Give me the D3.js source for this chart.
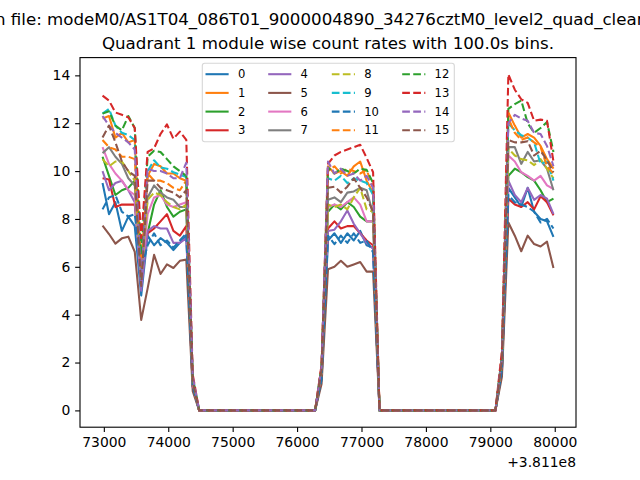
<!DOCTYPE html>
<html><head><meta charset="utf-8">
<script src="https://cdn.jsdelivr.net/npm/d3@7"></script>
<style>body{margin:0;background:#fff} text{font-family:"DejaVu Sans",sans-serif;fill:#000}</style>
</head><body><svg id="c" width="640" height="480" xmlns="http://www.w3.org/2000/svg"></svg>
<script>
// ---------------- data ----------------
const timeOffset = 381100000;
const binTimes = [72980,73080,73180,73280,73380,73480,73580,73680,73780,73880,73980,74080,74180,74280,74380,
74480,74580,74680,74780,74880,74980,75080,75180,75280,75380,75480,75580,75680,75780,75880,75980,76080,76180,76280,
76380,76480,76580,76680,76780,76880,76980,77080,77180,
77280,77380,77480,77580,77680,77780,77880,77980,78080,78180,78280,78380,78480,78580,78680,78780,78880,78980,79080,
79180,79280,79380,79480,79580,79680,79780,79880,79980];
const xTickLabels = ["73000","74000","75000","76000","77000","78000","79000","80000"];
const yTickLabels = ["0","2","4","6","8","10","12","14"];
const channelNames = ["0","1","2","3","4","5","6","7","8","9","10","11","12","13","14","15"];

const ch0 = [9.5,8.2,8.7,7.5,8.1,7.7,4.8,7.3,6.9,7.2,7.0,6.7,7.0,7.3, 1.0,
0,0,0,0,0,0,0,0,0,0,0,0,0,0,0,0,0,0,0, 1.3, 7.1,7.4,7.0,7.4,7.1,7.5,6.9,6.8,
0,0,0,0,0,0,0,0,0,0,0,0,0,0,0,0,0,0,0, 1.6, 9.3,8.9,8.5,9.3,8.3,8.0,7.9,7.25];
const ch1 = [12.2,12.3,11.4,11.6,11.2,11.3,5.7,9.8,10.3,10.2,9.9,9.9,9.7,9.6, 1.3,
0,0,0,0,0,0,0,0,0,0,0,0,0,0,0,0,0,0,0, 1.8, 10.2,9.9,10.0,9.8,10.2,10.4,9.6,9.1,
0,0,0,0,0,0,0,0,0,0,0,0,0,0,0,0,0,0,0, 2.1, 12.45,11.9,11.4,11.55,11.4,11.05,10.5,10.1];
const ch2 = [10.6,9.8,9.0,9.2,9.3,9.6,6.2,7.4,8.6,9.2,8.5,8.1,8.3,8.4, 1.1,
0,0,0,0,0,0,0,0,0,0,0,0,0,0,0,0,0,0,0, 1.5, 8.3,8.6,8.4,8.7,8.5,8.1,7.9,7.9,
0,0,0,0,0,0,0,0,0,0,0,0,0,0,0,0,0,0,0, 1.9, 9.8,10.1,9.95,9.75,9.6,9.2,8.7,8.85];
const ch3 = [9.7,9.65,8.5,8.6,8.6,8.6,6.0,7.4,7.6,7.9,8.2,7.5,7.3,7.7, 1.0,
0,0,0,0,0,0,0,0,0,0,0,0,0,0,0,0,0,0,0, 1.4, 7.6,7.9,7.6,7.7,7.7,7.4,7.1,6.9,
0,0,0,0,0,0,0,0,0,0,0,0,0,0,0,0,0,0,0, 1.7, 8.85,8.6,8.5,8.7,8.4,8.95,8.7,8.15];
const ch4 = [10.0,9.2,9.5,9.6,9.2,8.7,5.0,7.5,7.7,7.6,7.6,7.0,7.0,7.2, 1.0,
0,0,0,0,0,0,0,0,0,0,0,0,0,0,0,0,0,0,0, 1.4, 7.5,7.55,7.9,8.35,7.8,7.4,7.0,6.75,
0,0,0,0,0,0,0,0,0,0,0,0,0,0,0,0,0,0,0, 1.8, 9.6,9.0,8.7,9.3,8.8,9.0,8.85,8.2];
const ch5 = [7.72,7.37,6.97,7.19,7.26,6.63,3.78,5.1,6.5,5.7,6.1,5.95,6.25,6.3, 0.8,
0,0,0,0,0,0,0,0,0,0,0,0,0,0,0,0,0,0,0, 1.1, 5.9,6.0,6.25,6.0,6.1,6.2,5.8,5.8,
0,0,0,0,0,0,0,0,0,0,0,0,0,0,0,0,0,0,0, 1.4, 7.85,7.3,6.65,7.3,6.95,6.85,7.05,5.95];
const ch6 = [11.0,10.3,9.9,9.6,9.2,9.0,5.5,8.2,8.9,9.0,8.6,8.5,8.6,8.7, 1.1,
0,0,0,0,0,0,0,0,0,0,0,0,0,0,0,0,0,0,0, 1.6, 8.5,8.6,8.5,8.7,8.9,8.6,7.9,7.9,
0,0,0,0,0,0,0,0,0,0,0,0,0,0,0,0,0,0,0, 2.0, 10.65,10.4,9.95,9.8,9.6,9.8,9.4,9.25];
const ch7 = [10.75,11.0,10.6,10.3,9.7,9.4,5.8,8.9,9.4,9.1,8.9,8.8,8.5,8.5, 1.2,
0,0,0,0,0,0,0,0,0,0,0,0,0,0,0,0,0,0,0, 1.6, 8.8,8.9,8.7,9.1,9.15,9.3,9.2,8.2,
0,0,0,0,0,0,0,0,0,0,0,0,0,0,0,0,0,0,0, 2.0, 11.0,11.0,10.3,10.8,10.4,10.45,10.1,9.2];
const ch8 = [10.5,10.2,10.4,10.4,10.0,9.6,5.6,8.8,9.1,9.0,8.7,8.5,8.4,8.6, 1.2,
0,0,0,0,0,0,0,0,0,0,0,0,0,0,0,0,0,0,0, 1.6, 8.6,8.5,8.6,8.4,8.9,9.3,8.4,8.3,
0,0,0,0,0,0,0,0,0,0,0,0,0,0,0,0,0,0,0, 2.1, 10.95,10.65,10.5,10.45,10.25,10.5,10.1,9.7];
const ch9 = [12.4,12.6,11.9,11.6,11.5,11.3,5.5,10.0,10.45,10.15,10.1,9.95,9.85,9.75, 1.4,
0,0,0,0,0,0,0,0,0,0,0,0,0,0,0,0,0,0,0, 1.8, 9.7,9.6,9.8,9.5,9.7,9.6,9.5,9.0,
0,0,0,0,0,0,0,0,0,0,0,0,0,0,0,0,0,0,0, 2.2, 12.0,11.7,11.5,11.4,11.2,10.3,10.4,9.6];
const ch10 = [8.4,8.9,9.0,8.3,8.1,8.2,5.9,6.9,7.4,6.9,7.1,6.8,7.1,7.4, 1.0,
0,0,0,0,0,0,0,0,0,0,0,0,0,0,0,0,0,0,0, 1.3, 7.3,6.95,7.3,7.0,7.4,7.0,7.1,6.6,
0,0,0,0,0,0,0,0,0,0,0,0,0,0,0,0,0,0,0, 1.7, 9.0,8.7,8.6,8.5,8.3,7.85,8.0,7.6];
const ch11 = [11.3,11.0,10.9,10.6,10.6,10.5,6.0,9.9,9.6,9.6,9.5,9.3,9.2,9.6, 1.3,
0,0,0,0,0,0,0,0,0,0,0,0,0,0,0,0,0,0,0, 1.8, 10.0,10.2,9.9,10.1,10.0,9.9,10.05,9.3,
0,0,0,0,0,0,0,0,0,0,0,0,0,0,0,0,0,0,0, 2.2, 12.2,11.6,11.3,11.4,11.2,11.0,10.2,9.9];
const ch12 = [12.4,12.5,11.9,11.7,12.3,11.8,6.5,10.6,10.85,10.8,10.5,10.2,10.0,9.8, 1.3,
0,0,0,0,0,0,0,0,0,0,0,0,0,0,0,0,0,0,0, 1.8, 10.15,9.9,10.1,10.0,9.9,10.1,10.05,9.5,
0,0,0,0,0,0,0,0,0,0,0,0,0,0,0,0,0,0,0, 2.3, 12.6,12.8,12.95,12.0,11.6,11.8,12.05,10.8];
const ch13 = [13.15,12.95,12.45,12.35,12.25,11.8,7.2,10.8,10.95,11.55,11.95,11.35,11.65,11.3, 1.5,
0,0,0,0,0,0,0,0,0,0,0,0,0,0,0,0,0,0,0, 1.9, 10.3,10.65,10.8,10.9,11.0,11.1,10.55,9.95,
0,0,0,0,0,0,0,0,0,0,0,0,0,0,0,0,0,0,0, 2.5, 14.04,13.4,13.0,12.85,12.1,12.15,12.1,10.4];
const ch14 = [12.3,11.9,11.6,11.4,11.2,10.9,5.3,10.1,10.0,10.0,9.9,9.7,9.7,10.35, 1.4,
0,0,0,0,0,0,0,0,0,0,0,0,0,0,0,0,0,0,0, 1.8, 10.4,9.9,10.1,9.8,9.9,9.6,9.8,9.3,
0,0,0,0,0,0,0,0,0,0,0,0,0,0,0,0,0,0,0, 2.2, 12.0,12.35,12.2,12.1,11.6,11.55,11.05,10.2];
const ch15 = [11.4,11.9,11.2,10.4,10.0,9.8,5.2,9.6,9.6,9.3,9.2,9.1,8.9,9.2, 1.2,
0,0,0,0,0,0,0,0,0,0,0,0,0,0,0,0,0,0,0, 1.7, 9.3,9.35,9.1,9.35,9.7,9.3,8.9,8.3,
0,0,0,0,0,0,0,0,0,0,0,0,0,0,0,0,0,0,0, 2.1, 11.3,11.2,11.2,11.25,10.65,10.85,10.45,9.95];

const series = [ch0,ch1,ch2,ch3,ch4,ch5,ch6,ch7,ch8,ch9,ch10,ch11,ch12,ch13,ch14,ch15];
const tab10 = ["#1f77b4","#ff7f0e","#2ca02c","#d62728","#9467bd","#8c564b","#e377c2","#7f7f7f","#bcbd22","#17becf"];
const isDashed = i => i >= 8;

// ---------------- layout ----------------
const svg = d3.select("#c");
const L = 80, R = 576, T = 57.6, B = 427.2;
const tMin = d3.min(binTimes), tMax = d3.max(binTimes);
const tPad = (tMax - tMin) * 0.05;
const allV = series.flat();
const vMin = d3.min(allV), vMax = d3.max(allV);
const vPad = (vMax - vMin) * 0.05;
const x = d3.scaleLinear().domain([tMin - tPad, tMax + tPad]).range([L, R]);
const y = d3.scaleLinear().domain([vMin - vPad, vMax + vPad]).range([B, T]);

svg.append("rect").attr("width",640).attr("height",480).attr("fill","#fff");
svg.append("defs").append("clipPath").attr("id","clip")
  .append("rect").attr("x",L).attr("y",T).attr("width",R-L).attr("height",B-T);

const line = d3.line().x((d,i)=>x(binTimes[i])).y(d=>y(d));
const gl = svg.append("g").attr("clip-path","url(#clip)");
series.forEach((s,i)=>{
  gl.append("path").attr("d", line(s)).attr("fill","none")
    .attr("stroke", tab10[i%10]).attr("stroke-width",2.08)
    .attr("stroke-linejoin","round")
    .attr("stroke-dasharray", isDashed(i) ? "7.7,3.33" : null);
});

// axes
const tickLen = 4.86;
const xTickVals = xTickLabels.map(Number);
const xa = svg.append("g").attr("transform",`translate(0,${B})`)
  .call(d3.axisBottom(x).tickValues(xTickVals).tickFormat((d,i)=>xTickLabels[i])
        .tickSize(tickLen).tickPadding(5.2).tickSizeOuter(0));
const yTickVals = yTickLabels.map(Number);
const ya = svg.append("g").attr("transform",`translate(${L},0)`)
  .call(d3.axisLeft(y).tickValues(yTickVals).tickFormat((d,i)=>yTickLabels[i])
        .tickSize(tickLen).tickPadding(4.86).tickSizeOuter(0));
[xa,ya].forEach(g=>{
  g.select(".domain").remove();
  g.selectAll(".tick line").attr("stroke","#000").attr("stroke-width",1.1);
  g.selectAll(".tick text").attr("font-size","13.9px").attr("font-family","DejaVu Sans").attr("fill","#000");
});
svg.append("rect").attr("x",L).attr("y",T).attr("width",R-L).attr("height",B-T)
  .attr("fill","none").attr("stroke","#000").attr("stroke-width",1.1);

svg.append("text").attr("x",R).attr("y",467).attr("text-anchor","end")
  .attr("font-size","13.9px").text("+" + (timeOffset/1e8).toFixed(3) + "e8");

// titles
svg.append("text").attr("x",(L+R)/2).attr("y",49).attr("text-anchor","middle")
  .attr("font-size","16.67px").text("Quadrant 1 module wise count rates with 100.0s bins.");
const supStr = "Light curves for events in file: modeM0/AS1T04_086T01_9000004890_34276cztM0_level2_quad_clean.evt";
const sup = svg.append("text").attr("x",0).attr("y",25).attr("font-size","16.67px").text(supStr);
const idx = supStr.indexOf("n file:");
let off = 0;
try { off = sup.node().getSubStringLength(0, idx); } catch(e) { off = 0; }
sup.attr("x", -5 - off);

// legend
const fs = 11.57;
const lg = svg.append("g");
lg.append("rect").attr("x",202.3).attr("y",63.3).attr("width",252).attr("height",78.4)
  .attr("rx",2.5).attr("fill","#fff").attr("fill-opacity",0.8)
  .attr("stroke","#cccccc").attr("stroke-opacity",0.8).attr("stroke-width",1.1);
const colX = [205.5, 268.2, 331.8, 402.2];
const rowY = [74.2, 92.9, 111.6, 130.3];
channelNames.forEach((name,i)=>{
  const cx = colX[Math.floor(i/4)], cy = rowY[i%4];
  lg.append("line").attr("x1",cx).attr("x2",cx+2*fs).attr("y1",cy).attr("y2",cy)
    .attr("stroke",tab10[i%10]).attr("stroke-width",2.08)
    .attr("stroke-dasharray", isDashed(i) ? "7.7,3.33" : null);
  lg.append("text").attr("x",cx+2*fs+0.8*fs).attr("y",cy).attr("dy","0.36em")
    .attr("font-size",fs+"px").text(name);
});
</script></body></html>
